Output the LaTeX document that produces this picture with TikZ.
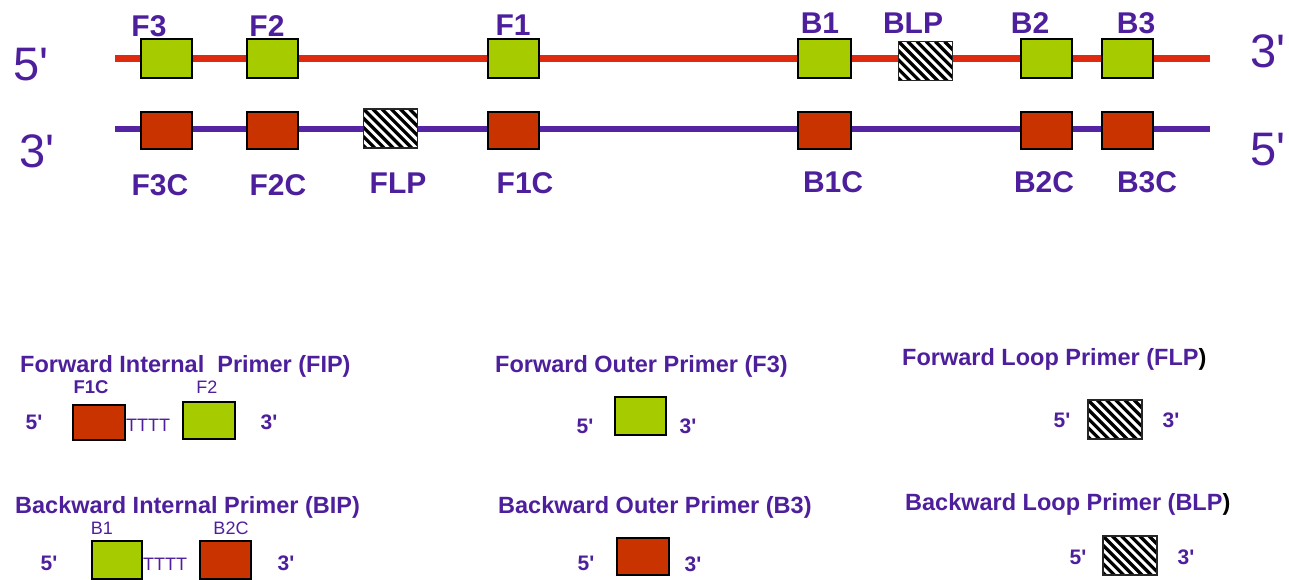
\documentclass[tikz,border=0pt]{standalone}
\usepackage{fontspec}
\setmainfont{Liberation Sans}
\usepackage{xcolor}
\usetikzlibrary{positioning}
\definecolor{txt-purple}{HTML}{4E1F9C}
\definecolor{line-purple}{HTML}{5524A3}
\definecolor{line-red}{HTML}{E02A10}
\definecolor{box-green}{HTML}{A6CC00}
\definecolor{box-red}{HTML}{C93300}
\newcommand{\primemark}{\textquotesingle}
\tikzset{
    strand-red/.style = {draw=line-red, line width=6.5pt},
    strand-purple/.style = {draw=line-purple, line width=6.5pt},
    green-box/.style = {draw=black, fill=box-green, line width=2pt, inner sep=0pt, minimum width=51pt, minimum height=39pt},
    red-box/.style = {draw=black, fill=box-red, line width=2pt, inner sep=0pt, minimum width=51pt, minimum height=37pt},
    hatch-box/.style = {draw=black!85, fill=white, line width=1.5pt, inner sep=0pt, minimum width=54pt, minimum height=39pt,
        path picture={\foreach \k in {-6,...,6}
            \draw[black, line width=3.3pt] ([xshift=\k*9.2pt]path picture bounding box.north west) -- ++(50pt,-50pt);}},
    end-label/.style = {text=txt-purple, inner sep=0pt, anchor=base, font=\fontsize{47}{47}\selectfont},
    seg-label/.style = {text=txt-purple, inner sep=0pt, anchor=base, font=\fontsize{30}{30}\selectfont\bfseries},
    primer-title/.style = {text=txt-purple, inner sep=0pt, anchor=base west, font=\fontsize{23.5}{23.5}\selectfont\bfseries},
    primer-end/.style = {text=txt-purple, inner sep=0pt, anchor=base, font=\fontsize{21}{21}\selectfont\bfseries},
    part-label/.style = {text=txt-purple, inner sep=0pt, anchor=base, font=\fontsize{18}{18}\selectfont},
    tail-label/.style = {text=txt-purple, inner sep=0pt, anchor=base, font=\fontsize{18}{18}\selectfont},
}

\begin{document}
\begin{tikzpicture}[x=1pt, y=-1pt]
\useasboundingbox (0,0) rectangle (1289,579);

% the two strands of the target
\coordinate (top-start) at (115,58.5);
\coordinate (top-end) at (1210,58.5);
\coordinate (bot-start) at (115,129);
\coordinate (bot-end) at (1210,129);
\draw[strand-red] (top-start) -- (top-end);
\draw[strand-purple] (bot-start) -- (bot-end);

\node[end-label] (top-five) at (31,80) {5\primemark};
\node[end-label] (top-three) at (1268,67) {3\primemark};
\node[end-label] (bot-three) at (37,167) {3\primemark};
\node[end-label] (bot-five) at (1268,165) {5\primemark};

% regions on the top strand
\node[green-box] (F3) at (166.5,58.5) {};
\node[green-box] (F2) at (272.5,58.5) {};
\node[green-box] (F1) at (513.5,58.5) {};
\node[green-box, minimum width=53pt] (B1) at (824.5,58.5) {};
\node[hatch-box] (BLP) at (925.5,61) {};
\node[green-box] (B2) at (1046.5,58.5) {};
\node[green-box] (B3) at (1127.5,58.5) {};

\node[seg-label] (F3-label) at (149,36) {F3};
\node[seg-label] (F2-label) at (267,36) {F2};
\node[seg-label] (F1-label) at (513,35) {F1};
\node[seg-label] (B1-label) at (820,33) {B1};
\node[seg-label] (BLP-label) at (913,33) {BLP};
\node[seg-label] (B2-label) at (1030,33) {B2};
\node[seg-label] (B3-label) at (1136,33) {B3};

% regions on the bottom strand
\node[red-box] (F3C) at (166.5,130) {};
\node[red-box] (F2C) at (272.5,130) {};
\node[hatch-box] (FLP) at (390.5,128.5) {};
\node[red-box] (F1C) at (513.5,130) {};
\node[red-box, minimum width=53pt] (B1C) at (824.5,130) {};
\node[red-box] (B2C) at (1046.5,130) {};
\node[red-box] (B3C) at (1127.5,130) {};

\node[seg-label] (F3C-label) at (160,195) {F3C};
\node[seg-label] (F2C-label) at (278,195) {F2C};
\node[seg-label] (FLP-label) at (398,193) {FLP};
\node[seg-label] (F1C-label) at (525,193) {F1C};
\node[seg-label] (B1C-label) at (833,192) {B1C};
\node[seg-label] (B2C-label) at (1044,192) {B2C};
\node[seg-label] (B3C-label) at (1147,192) {B3C};

% forward internal primer
\node[primer-title] (fip-title) at (20,372) {Forward Internal\ \ Primer (FIP)};
\node[red-box, minimum width=52pt, minimum height=35pt] (fip-a) at (99,422.5) {};
\node[green-box, minimum width=52pt, minimum height=37pt] (fip-b) at (209,420.5) {};
\node[part-label, font=\fontsize{18.5}{18.5}\selectfont\bfseries] (fip-a-label) at (91,393) {F1C};
\node[part-label] (fip-b-label) at (207,393) {F2};
\node[tail-label] (fip-tail) at (148,431) {TTTT};
\node[primer-end] (fip-five) at (34,429) {5\primemark};
\node[primer-end] (fip-three) at (269,429) {3\primemark};

% backward internal primer
\node[primer-title] (bip-title) at (15,513) {Backward Internal Primer (BIP)};
\node[green-box, minimum width=50pt, minimum height=38pt] (bip-a) at (117,560) {};
\node[red-box, minimum width=51pt, minimum height=38pt] (bip-b) at (225.5,560) {};
\node[part-label] (bip-a-label) at (102,534) {B1};
\node[part-label] (bip-b-label) at (231,534) {B2C};
\node[tail-label] (bip-tail) at (165,570) {TTTT};
\node[primer-end] (bip-five) at (49,570) {5\primemark};
\node[primer-end] (bip-three) at (286,570) {3\primemark};

% outer primers
\node[primer-title] (fop-title) at (495,372) {Forward Outer Primer (F3)};
\node[green-box, minimum height=38pt] (fop-box) at (640.5,416) {};
\node[primer-end] (fop-five) at (585,433) {5\primemark};
\node[primer-end] (fop-three) at (688,433) {3\primemark};

\node[primer-title] (bop-title) at (498,513) {Backward Outer Primer (B3)};
\node[red-box, minimum width=52pt] (bop-box) at (643,556.5) {};
\node[primer-end] (bop-five) at (586,570) {5\primemark};
\node[primer-end] (bop-three) at (693,571) {3\primemark};

% loop primers
\node[primer-title] (flp-title) at (902,365) {Forward Loop Primer (FLP\textcolor{black}{)}};
\node[hatch-box] (flp-box) at (1115,419.5) {};
\node[primer-end] (flp-five) at (1062,427) {5\primemark};
\node[primer-end] (flp-three) at (1171,427) {3\primemark};

\node[primer-title] (blp-title) at (905,510) {Backward Loop Primer (BLP\textcolor{black}{)}};
\node[hatch-box] (blp-box) at (1130,555.5) {};
\node[primer-end] (blp-five) at (1078,564) {5\primemark};
\node[primer-end] (blp-three) at (1186,564) {3\primemark};
\end{tikzpicture}
\end{document}
